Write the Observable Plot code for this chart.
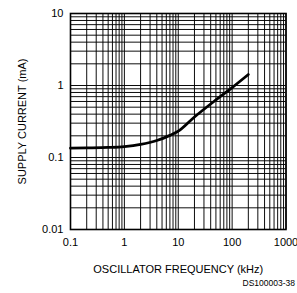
<!DOCTYPE html>
<html><head><meta charset="utf-8">
<script src="https://cdn.jsdelivr.net/npm/d3@7"></script>
<script src="https://cdn.jsdelivr.net/npm/@observablehq/plot@0.6"></script>
<style>body{margin:0;background:#fff}#chart svg{display:block}</style>
</head><body><div id="chart"></div>
<script>
// Supply current vs oscillator frequency
const freqKHz = [0.1, 0.2, 0.5, 1, 2, 4, 7, 10, 20, 50, 100, 200];
const supplyMA = [0.135, 0.136, 0.138, 0.142, 0.152, 0.172, 0.203, 0.232, 0.365, 0.63, 0.935, 1.42];
const xTickValues = [0.1, 1, 10, 100, 1000];
const yTickValues = [0.01, 0.1, 1, 10];
const xDecades = [0.1, 1, 10, 100];
const yDecades = [0.01, 0.1, 1];
const gridMultipliers = [1, 2, 3, 4, 5, 6, 7, 8, 9];
const xLabel = "OSCILLATOR FREQUENCY (kHz)";
const yLabel = "SUPPLY CURRENT (mA)";
const figureId = "DS100003-38";

const data = freqKHz.map((f, i) => ({f, i: supplyMA[i]}));
const xGrid = xDecades.flatMap(d => gridMultipliers.map(m => d * m)).concat([1000]);
const yGrid = yDecades.flatMap(d => gridMultipliers.map(m => d * m)).concat([10]);

const chart = Plot.plot({
  width: 297,
  height: 293,
  marginLeft: 70,
  marginRight: 11.5,
  marginTop: 13,
  marginBottom: 64,
  style: {fontFamily: "Liberation Sans, Arial, sans-serif", fontSize: "11px", color: "#000", background: "#fff"},
  x: {type: "log", domain: [0.1, 1000]},
  y: {type: "log", domain: [0.01, 10]},
  marks: [
    Plot.ruleX(xGrid, {stroke: "#000", strokeWidth: 1, strokeOpacity: 0.95}),
    Plot.ruleY(yGrid, {stroke: "#000", strokeWidth: 1, strokeOpacity: 0.95}),
    Plot.frame({stroke: "#000", strokeWidth: 1.6}),
    Plot.line(data, {x: "f", y: "i", stroke: "#000", strokeWidth: 2.8, curve: "monotone-x"}),
    Plot.axisX({ticks: xTickValues, tickSize: 0, tickPadding: 9, tickFormat: d => String(d),
      label: xLabel, labelAnchor: "center", labelArrow: "none", labelOffset: 43}),
    Plot.axisY({ticks: yTickValues, tickSize: 0, tickPadding: 7, tickFormat: d => String(d),
      label: yLabel, labelAnchor: "center", labelArrow: "none", labelOffset: 52}),
    Plot.text([figureId], {frameAnchor: "bottom-right", dx: 9, dy: 56, textAnchor: "end", fontSize: 8.5,
      fontFamily: "Liberation Sans, Arial, sans-serif"})
  ]
});
document.getElementById("chart").appendChild(chart);
</script>
</body></html>
